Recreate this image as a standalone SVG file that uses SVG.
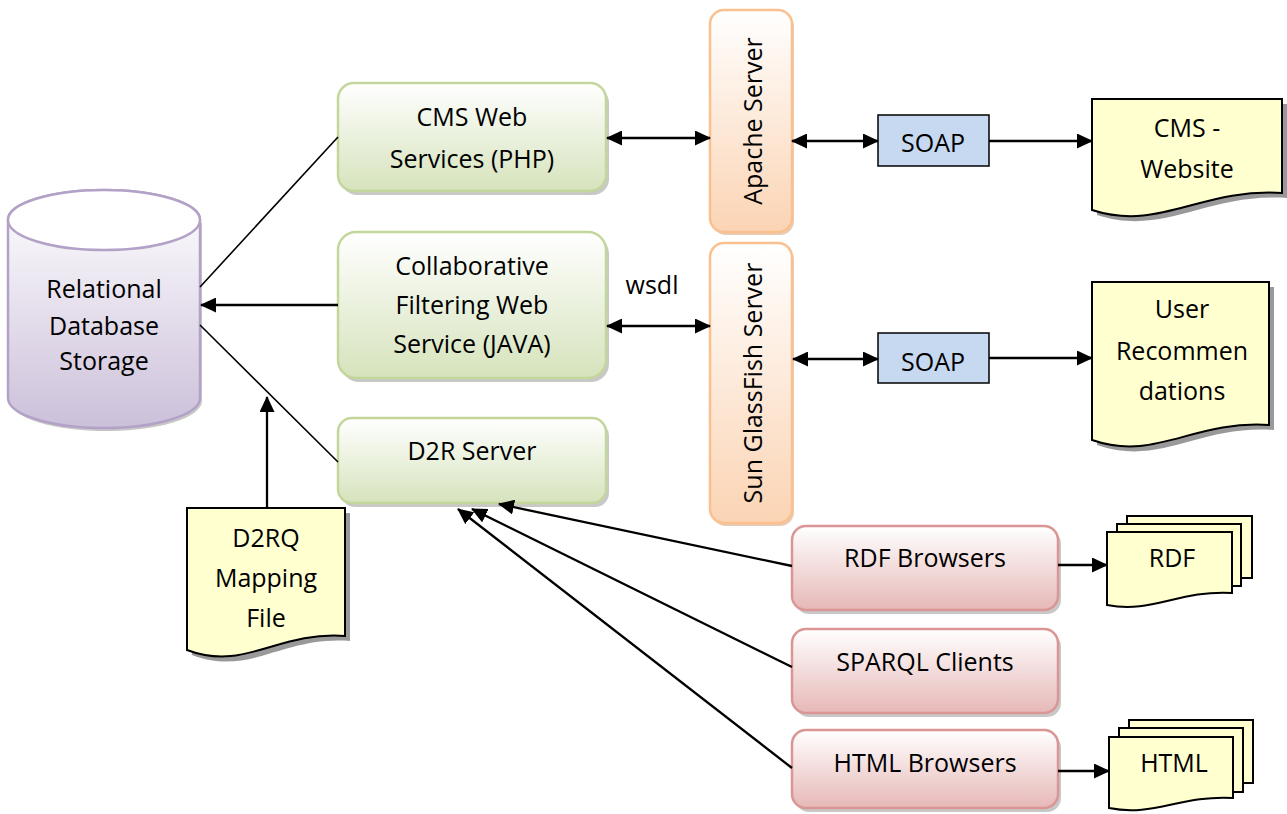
<svg xmlns="http://www.w3.org/2000/svg" width="1287" height="814" viewBox="0 0 1287 814">
<defs>
<linearGradient id="gGreen" x1="0" y1="0" x2="0" y2="1"><stop offset="0" stop-color="#ffffff"/><stop offset="1" stop-color="#d6e3bc"/></linearGradient>
<linearGradient id="gOrange" x1="0" y1="0" x2="0" y2="1"><stop offset="0" stop-color="#ffffff"/><stop offset="1" stop-color="#fbd4b4"/></linearGradient>
<linearGradient id="gRed" x1="0" y1="0" x2="0" y2="1"><stop offset="0" stop-color="#ffffff"/><stop offset="1" stop-color="#e6b8b7"/></linearGradient>
<linearGradient id="gPurple" x1="0" y1="0" x2="0" y2="1"><stop offset="0" stop-color="#ffffff"/><stop offset="1" stop-color="#ccc0da"/></linearGradient>
<marker id="arr" viewBox="0 0 16 15" refX="15" refY="7.5" markerWidth="16" markerHeight="15" markerUnits="userSpaceOnUse" orient="auto-start-reverse"><path d="M0,0 L16,7.5 L0,15 Z" fill="#000"/></marker>
<style>
text{font-family:"Open Sans","Liberation Sans",sans-serif;font-size:25px;fill:#000;text-anchor:middle}
.green{fill:url(#gGreen);stroke:#c3d69b;stroke-width:2.5}
.orange{fill:url(#gOrange);stroke:#fac090;stroke-width:2.5}
.red{fill:url(#gRed);stroke:#d99694;stroke-width:2.5}
.shadow{fill:#9a9a9a;opacity:0.55}
.docshadow{fill:#7f7f7f;opacity:0.8}
.doc{fill:#ffffd0;stroke:#000;stroke-width:2}
.soap{fill:#c6d9f1;stroke:#000;stroke-width:1.5}
.conn{stroke:#000;stroke-width:2.3;fill:none}
.thin{stroke:#000;stroke-width:1.6;fill:none}
</style>
</defs>

<g id="db">
<path d="M10,223 V401 A96,30 0 0 0 202,401 V223 Z" class="shadow"/>
<path d="M8,220 V398 A96,30 0 0 0 200,398 V220 A96,30 0 0 0 8,220 Z" fill="url(#gPurple)" stroke="#b3a2c7" stroke-width="2.5"/>
<ellipse cx="104" cy="220" rx="96" ry="30" fill="#ffffff" stroke="#b3a2c7" stroke-width="2.5"/>
<text x="104" y="298">Relational</text>
<text x="104" y="335">Database</text>
<text x="104" y="370">Storage</text>
</g>

<g id="cms">
<rect x="341" y="87" width="268" height="108" rx="16" class="shadow"/>
<rect x="338" y="83" width="268" height="108" rx="16" class="green"/>
<text x="472" y="126">CMS Web</text>
<text x="472" y="168">Services (PHP)</text>
</g>

<g id="cf">
<rect x="341" y="236" width="268" height="146" rx="18" class="shadow"/>
<rect x="338" y="232" width="268" height="146" rx="18" class="green"/>
<text x="472" y="275">Collaborative</text>
<text x="472" y="314">Filtering Web</text>
<text x="472" y="353">Service (JAVA)</text>
</g>

<g id="d2r">
<rect x="341" y="422" width="268" height="85" rx="14" class="shadow"/>
<rect x="338" y="418" width="268" height="85" rx="14" class="green"/>
<text x="472" y="460">D2R Server</text>
</g>

<g id="apache">
<rect x="712" y="13" width="82" height="222" rx="14" fill="#d9a980" opacity="0.6"/>
<rect x="710" y="10" width="82" height="222" rx="14" class="orange"/>
<text transform="translate(762,121) rotate(-90)">Apache Server</text>
</g>

<g id="glassfish">
<rect x="712" y="246" width="82" height="280" rx="14" fill="#d9a980" opacity="0.6"/>
<rect x="710" y="243" width="82" height="280" rx="14" class="orange"/>
<text transform="translate(762,383) rotate(-90)">Sun GlassFish Server</text>
</g>

<g id="soap1">
<rect x="878" y="115" width="111" height="51" class="soap"/>
<text x="933" y="152">SOAP</text>
</g>

<g id="soap2">
<rect x="878" y="333" width="111" height="50" class="soap"/>
<text x="933" y="371">SOAP</text>
</g>

<g id="cmsweb">
<path d="M1097,104 H1287 V198 C1205,193 1165,237 1097,215 Z" class="docshadow"/>
<path d="M1092,99 H1282 V193 C1200,188 1160,232 1092,210 Z" class="doc"/>
<text x="1187" y="137">CMS -</text>
<text x="1187" y="178">Website</text>
</g>

<g id="userrec">
<path d="M1097,287 H1274 V430 C1197,425 1161,467 1097,445 Z" class="docshadow"/>
<path d="M1092,282 H1269 V425 C1192,420 1156,462 1092,440 Z" class="doc"/>
<text x="1182" y="318">User</text>
<text x="1182" y="360">Recommen</text>
<text x="1182" y="400">dations</text>
</g>

<g id="d2rq">
<path d="M192,513 H350 V641 C282,636 250,677 192,655 Z" class="docshadow"/>
<path d="M187,508 H345 V636 C277,631 245,672 187,650 Z" class="doc"/>
<text x="266" y="547">D2RQ</text>
<text x="266" y="587">Mapping</text>
<text x="266" y="627">File</text>
</g>

<g id="rdfb">
<rect x="795" y="530" width="266" height="84" rx="14" class="shadow"/>
<rect x="792" y="526" width="266" height="84" rx="14" class="red"/>
<text x="925" y="567">RDF Browsers</text>
</g>

<g id="sparql">
<rect x="795" y="633" width="266" height="84" rx="14" class="shadow"/>
<rect x="792" y="629" width="266" height="84" rx="14" class="red"/>
<text x="925" y="671">SPARQL Clients</text>
</g>

<g id="htmlb">
<rect x="795" y="734" width="266" height="78" rx="14" class="shadow"/>
<rect x="792" y="730" width="266" height="78" rx="14" class="red"/>
<text x="925" y="772">HTML Browsers</text>
</g>

<g id="rdfdoc">
<rect x="1127" y="516" width="125" height="62" class="doc"/>
<rect x="1117" y="524" width="124" height="62" class="doc"/>
<path d="M1107,532 H1232 V593 C1178,590 1152,614 1107,605 Z" class="doc"/>
<text x="1172" y="567">RDF</text>
</g>

<g id="htmldoc">
<rect x="1129" y="720" width="124" height="63" class="doc"/>
<rect x="1119" y="728" width="124" height="64" class="doc"/>
<path d="M1109,737 H1233 V798 C1180,795 1154,817 1109,808 Z" class="doc"/>
<text x="1174" y="772">HTML</text>
</g>

<g id="connectors">
<line x1="200" y1="287" x2="338" y2="137" class="thin"/>
<line x1="200" y1="325" x2="338" y2="462" class="thin"/>
<line x1="338" y1="305" x2="201" y2="305" class="conn" marker-end="url(#arr)"/>
<line x1="267" y1="508" x2="267" y2="397" class="conn" marker-end="url(#arr)"/>
<line x1="607" y1="138" x2="710" y2="138" class="conn" marker-start="url(#arr)" marker-end="url(#arr)"/>
<line x1="792" y1="141" x2="878" y2="141" class="conn" marker-start="url(#arr)" marker-end="url(#arr)"/>
<line x1="989" y1="141" x2="1092" y2="141" class="conn" marker-end="url(#arr)"/>
<line x1="607" y1="326" x2="710" y2="326" class="conn" marker-start="url(#arr)" marker-end="url(#arr)"/>
<text x="652" y="294">wsdl</text>
<line x1="793" y1="359" x2="878" y2="359" class="conn" marker-start="url(#arr)" marker-end="url(#arr)"/>
<line x1="989" y1="358" x2="1092" y2="358" class="conn" marker-end="url(#arr)"/>
<line x1="792" y1="566" x2="499" y2="504" class="conn" marker-end="url(#arr)"/>
<line x1="792" y1="667" x2="472" y2="509" class="conn" marker-end="url(#arr)"/>
<line x1="792" y1="768" x2="458" y2="509" class="conn" marker-end="url(#arr)"/>
<line x1="1058" y1="565" x2="1107" y2="565" class="conn" marker-end="url(#arr)"/>
<line x1="1058" y1="771" x2="1109" y2="771" class="conn" marker-end="url(#arr)"/>
</g>
</svg>
